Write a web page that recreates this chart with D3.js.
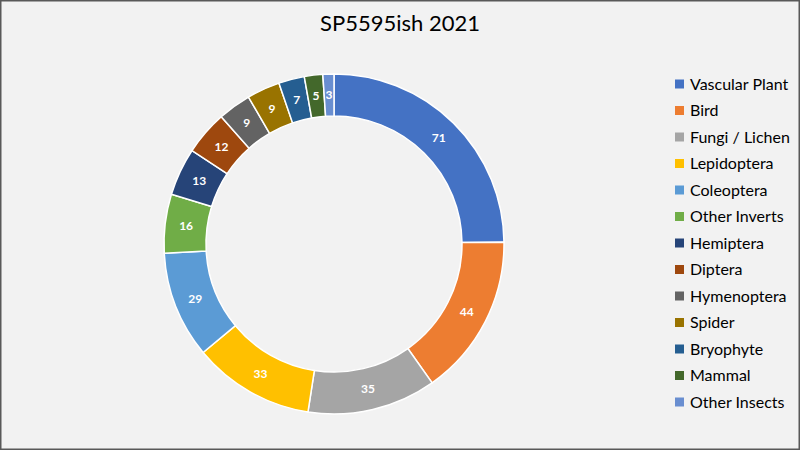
<!DOCTYPE html>
<html>
<head>
<meta charset="utf-8">
<script src="https://cdn.jsdelivr.net/npm/d3@7"></script>
<style>
  html, body { margin: 0; padding: 0; background: #f2f2f2; }
  svg { display: block; font-family: Lato, "Open Sans", sans-serif; }
</style>
</head>
<body>
<svg id="chart"></svg>
<script>
const categories = ["Vascular Plant", "Bird", "Fungi / Lichen", "Lepidoptera", "Coleoptera",
  "Other Inverts", "Hemiptera", "Diptera", "Hymenoptera", "Spider", "Bryophyte", "Mammal", "Other Insects"];
const counts = [71, 44, 35, 33, 29, 16, 13, 12, 9, 9, 7, 5, 3];
const colours = ["#4472C4", "#ED7D31", "#A5A5A5", "#FFC000", "#5B9BD5", "#70AD47",
  "#264478", "#9E480E", "#636363", "#997300", "#255E91", "#43682B", "#698ED0"];
const title = "SP5595ish 2021";

const width = 800, height = 450;
const cx = 334, cy = 244, outerR = 170, innerR = 128;

const svg = d3.select("#chart").attr("width", width).attr("height", height);

svg.append("rect")
  .attr("x", 0.75).attr("y", 0.75)
  .attr("width", width - 1.5).attr("height", height - 1.5)
  .attr("fill", "#f2f2f2")
  .attr("stroke", "#595959")
  .attr("stroke-width", 1.5);

svg.append("text")
  .attr("x", 400).attr("y", 31)
  .attr("text-anchor", "middle")
  .attr("font-size", 22)
  .attr("fill", "#000")
  .text(title);

const data = categories.map((c, i) => ({ name: c, value: counts[i], colour: colours[i] }));

const pie = d3.pie().sort(null).value(d => d.value);
const arc = d3.arc().innerRadius(innerR).outerRadius(outerR);

const g = svg.append("g").attr("transform", "translate(" + cx + "," + cy + ")");

const slices = g.selectAll("g.slice")
  .data(pie(data))
  .enter()
  .append("g")
  .attr("class", "slice");

slices.append("path")
  .attr("d", arc)
  .attr("fill", d => d.data.colour)
  .attr("stroke", "#fff")
  .attr("stroke-width", 1.5);

slices.append("text")
  .attr("transform", d => "translate(" + arc.centroid(d) + ")")
  .attr("text-anchor", "middle")
  .attr("dy", "0.35em")
  .attr("font-size", 12)
  .attr("font-weight", "bold")
  .attr("fill", "#fff")
  .text(d => d.data.value);

// legend
const legendY = d3.scalePoint().domain(categories).range([84, 402]);

const legend = svg.append("g").selectAll("g")
  .data(data)
  .enter()
  .append("g")
  .attr("transform", d => "translate(675," + legendY(d.name) + ")");

legend.append("rect")
  .attr("x", 0).attr("y", -4.5)
  .attr("width", 9).attr("height", 9)
  .attr("fill", d => d.colour);

legend.append("text")
  .attr("x", 15)
  .attr("dy", "0.35em")
  .attr("font-size", 16)
  .attr("fill", "#000")
  .text(d => d.name);
</script>
</body>
</html>
